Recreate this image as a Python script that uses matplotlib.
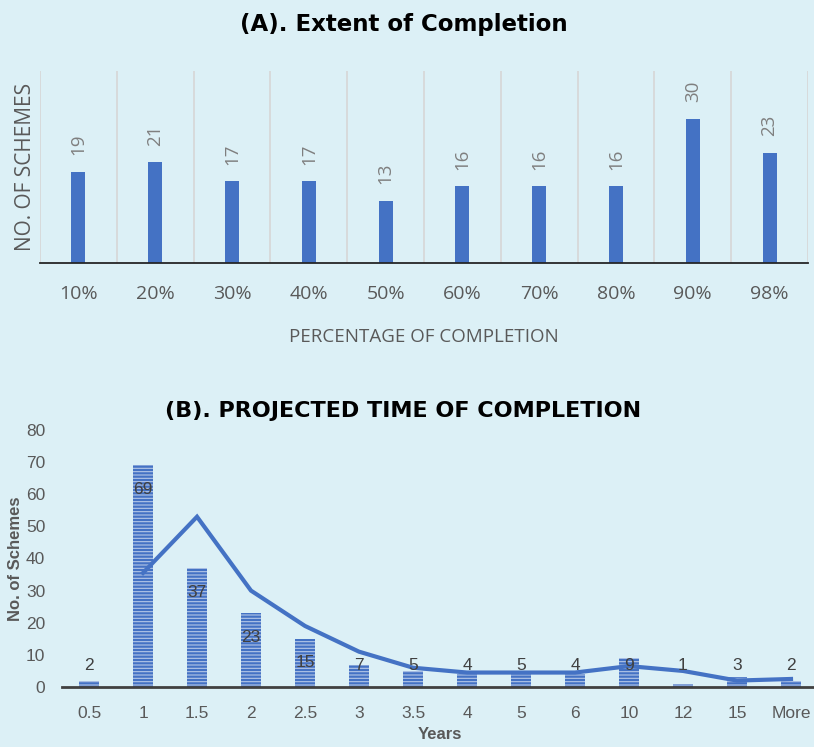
import matplotlib.pyplot as plt
import numpy as np
import pandas as pd

# data
pct_labels = ['10%', '20%', '30%', '40%', '50%', '60%', '70%', '80%', '90%', '98%']
pct_counts = [19, 21, 17, 17, 13, 16, 16, 16, 30, 23]

year_labels = ['0.5', '1', '1.5', '2', '2.5', '3', '3.5', '4', '5', '6', '10', '12', '15', 'More']
year_counts = [2, 69, 37, 23, 15, 7, 5, 4, 5, 4, 9, 1, 3, 2]

BG = '#DCF0F6'
BLUE = '#4472C4'
GREY = '#595959'
NARROW = ['Liberation Sans Narrow', 'Liberation Sans']

plt.rcParams['hatch.linewidth'] = 0.8

fig = plt.figure(figsize=(8.14, 7.47), dpi=100, facecolor=BG)
W, H = 814, 747

def ax_box(l, t, r, b):
    return [l / W, 1 - b / H, (r - l) / W, (b - t) / H]

# (A) Extent of completion
ax1 = fig.add_axes(ax_box(40, 71, 808, 263))
ax1.set_facecolor(BG)
x1 = np.arange(len(pct_counts))
ax1.bar(x1, pct_counts, width=0.18, color=BLUE, zorder=3)
ax1.set_xlim(-0.5, len(pct_counts) - 0.5)
ax1.set_ylim(0, 40)
for b in np.arange(-0.5, len(pct_counts), 1.0):
    ax1.axvline(b, color='#D6D6D6', lw=1.2, zorder=1)
for xi, v in zip(x1, pct_counts):
    ax1.annotate(str(v), (xi, v), xytext=(0, 12), textcoords='offset points',
                 rotation=90, ha='center', va='bottom', color='#7F7F7F',
                 fontsize=13.5, family='Open Sans')
ax1.set_yticks([])
ax1.set_xticks(x1)
ax1.set_xticklabels(pct_labels, family='Open Sans', fontsize=14, color=GREY)
ax1.tick_params(axis='x', length=0, pad=16)
for s in ['top', 'right', 'left']:
    ax1.spines[s].set_visible(False)
ax1.spines['bottom'].set_color('#262626')
ax1.spines['bottom'].set_linewidth(1.3)
ax1.spines['bottom'].set_zorder(4)
ax1.set_ylabel('NO. OF SCHEMES', family='Open Sans', fontsize=15, color=GREY, labelpad=3)
ax1.set_xlabel('PERCENTAGE OF COMPLETION', family='Open Sans', fontsize=13.5,
               color=GREY, labelpad=18)
fig.text(404 / W, 1 - 25 / H, '(A). Extent of Completion', ha='center', va='center',
         family='DejaVu Sans', fontweight='bold', fontsize=16.5, color='black')

# (B) Projected time of completion
ax2 = fig.add_axes(ax_box(62, 430, 818, 687))
ax2.set_facecolor(BG)
x2 = np.arange(len(year_counts))
ax2.bar(x2, year_counts, width=0.38, color=BLUE, edgecolor='#B4C7E7', linewidth=0,
        hatch='-----', zorder=2)
trend = pd.Series(year_counts, dtype=float).rolling(2).mean()
ax2.plot(x2, trend, color=BLUE, lw=3, zorder=3, solid_joinstyle='miter')
ax2.set_xlim(-0.5, len(year_counts) - 0.5)
ax2.set_ylim(0, 80)
ax2.set_yticks(range(0, 81, 10))
for xi, v in zip(x2, year_counts):
    ax2.text(xi, max(v - 7.5, 6.8), str(v), ha='center', va='center', color='#404040',
             fontsize=12.5, family=NARROW, zorder=4)
ax2.set_xticks(x2)
ax2.set_xticklabels(year_labels)
ax2.tick_params(length=0, labelsize=12.5, labelcolor=GREY)
ax2.tick_params(axis='x', pad=14)
ax2.tick_params(axis='y', pad=12)
for lab in ax2.get_xticklabels() + ax2.get_yticklabels():
    lab.set_family(NARROW)
for s in ['top', 'right', 'left']:
    ax2.spines[s].set_visible(False)
ax2.spines['bottom'].set_color('#404040')
ax2.spines['bottom'].set_linewidth(2)
ax2.spines['bottom'].set_zorder(5)
ax2.set_ylabel('No. of Schemes', family=NARROW, fontweight='bold', fontsize=12,
               color=GREY, labelpad=2)
ax2.set_xlabel('Years', family=NARROW, fontweight='bold', fontsize=12,
               color=GREY, labelpad=4)
fig.text(403 / W, 1 - 411 / H, '(B). PROJECTED TIME OF COMPLETION', ha='center',
         va='center', family='DejaVu Sans', fontweight='bold', fontsize=16, color='black')

fig.savefig('out.png', dpi=100, facecolor=BG)
